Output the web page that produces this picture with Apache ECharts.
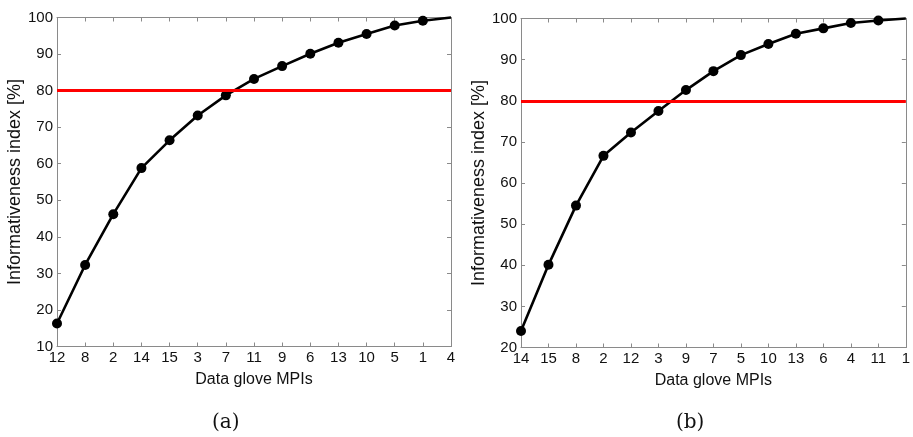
<!DOCTYPE html>
<html>
<head>
<meta charset="utf-8">
<script src="https://cdn.jsdelivr.net/npm/echarts@6/dist/echarts.min.js"></script>
<style>
html,body{margin:0;padding:0;background:#fff;}
#c{width:913px;height:437px;}
</style>
</head>
<body>
<div id="c"></div>
<script>
// Panel (a)
var categoriesA = ['12','8','2','14','15','3','7','11','9','6','13','10','5','1','4'];
var valuesA = [16.3, 32.3, 46.2, 58.8, 66.4, 73.2, 78.7, 83.2, 86.7, 90.1, 93.1, 95.5, 97.8, 99.1, 100];
var thresholdA = 80;
// Panel (b)
var categoriesB = ['14','15','8','2','12','3','9','7','5','10','13','6','4','11','1'];
var valuesB = [24.0, 40.1, 54.5, 66.6, 72.3, 77.5, 82.6, 87.2, 91.1, 93.8, 96.3, 97.6, 98.9, 99.5, 100];
var thresholdB = 80;
var yTicksA = {min: 10, max: 100, interval: 10};
var yTicksB = {min: 20, max: 100, interval: 10};
var xName = 'Data glove MPIs';
var yName = 'Informativeness index [%]';
var captions = ['(a)', '(b)'];

var axisColor = '#8a8a8a';
var font = 'Liberation Sans, Arial, sans-serif';

function lineData(vals){
  return vals.map(function(v, i){
    if (i === vals.length - 1) return {value: v, symbol: 'none'};
    return v;
  });
}

function mkX(gi, cats, primary){
  return {
    type: 'category', gridIndex: gi, data: cats, boundaryGap: false,
    position: primary ? 'bottom' : 'top',
    axisLine: {show: true, lineStyle: {color: axisColor, width: 1}},
    axisTick: {show: true, inside: true, length: 4, alignWithLabel: true, lineStyle: {color: axisColor}},
    axisLabel: {show: primary, color: '#111', fontSize: 15, fontFamily: font, margin: 4, interval: 0},
    splitLine: {show: false},
    name: primary ? xName : '', nameLocation: 'middle', nameGap: 25,
    nameTextStyle: {color: '#111', fontSize: 16, fontFamily: font}
  };
}
function mkY(gi, t, primary){
  return {
    type: 'value', gridIndex: gi, min: t.min, max: t.max, interval: t.interval,
    position: primary ? 'left' : 'right',
    axisLine: {show: true, lineStyle: {color: axisColor, width: 1}},
    axisTick: {show: true, inside: true, length: 4, lineStyle: {color: axisColor}},
    axisLabel: {show: primary, color: '#111', fontSize: 15, fontFamily: font, margin: 4},
    splitLine: {show: false},
    name: primary ? yName : '', nameLocation: 'middle', nameGap: 31, nameRotate: 90,
    nameTextStyle: {color: '#111', fontSize: 18, fontFamily: font}
  };
}
function mkSeries(xi, yi, vals, thr){
  return {
    type: 'line', xAxisIndex: xi, yAxisIndex: yi, data: lineData(vals),
    symbol: 'circle', symbolSize: 10, showSymbol: true,
    lineStyle: {color: '#000', width: 2.6}, itemStyle: {color: '#000'},
    animation: false, clip: false,
    markLine: {
      silent: true, symbol: 'none', animation: false,
      label: {show: false},
      lineStyle: {color: '#ff0000', width: 3, type: 'solid'},
      data: [{yAxis: thr}]
    }
  };
}

var chart = echarts.init(document.getElementById('c'), null, {renderer: 'canvas'});
chart.setOption({
  animation: false,
  backgroundColor: '#fff',
  grid: [
    {left: 57, right: 462, top: 17.5, bottom: 90.5},
    {left: 521, right: 1, top: 18.5, bottom: 89.5}
  ],
  xAxis: [
    mkX(0, categoriesA, true), mkX(0, categoriesA, false),
    mkX(1, categoriesB, true), mkX(1, categoriesB, false)
  ],
  yAxis: [
    mkY(0, yTicksA, true), mkY(0, yTicksA, false),
    mkY(1, yTicksB, true), mkY(1, yTicksB, false)
  ],
  series: [
    mkSeries(0, 0, valuesA, thresholdA),
    mkSeries(2, 2, valuesB, thresholdB)
  ],
  graphic: [
    {type: 'text', left: 212, top: 413, style: {text: captions[0], font: '20px "DejaVu Serif", "Liberation Serif", serif', fill: '#111'}},
    {type: 'text', left: 676, top: 413, style: {text: captions[1], font: '20px "DejaVu Serif", "Liberation Serif", serif', fill: '#111'}}
  ]
});
</script>
</body>
</html>
